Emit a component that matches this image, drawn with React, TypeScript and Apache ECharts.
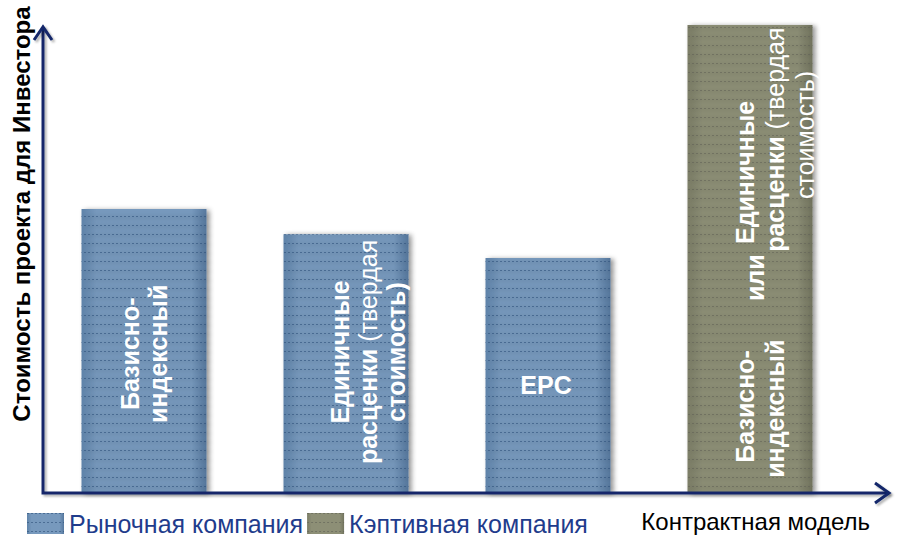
import React, { useEffect, useRef } from "react";
import * as echarts from "echarts";

// ---- data ----
const categories = ["Базисно-индексный", "Единичные расценки", "EPC", "Кэптивная"];
const marketValues: (number | null)[] = [60.7, 55.3, 50.2, null];
const captiveValues: (number | null)[] = [null, null, null, 100];
const seriesNames = ["Рыночная компания", "Кэптивная компания"];
const yAxisTitle = "Стоимость проекта для Инвестора";
const xAxisTitle = "Контрактная модель";

// label texts inside bars (rich-text markup)
const barLabelTexts = [
  "{b|Базисно-}\n{b|индексный}",
  "{b|Единичные}\n{b|расценки}{n| (твердая}\n{b|стоимость)}",
  "{b|EPC}",
  "{b|Базисно-}",
  "{b|индексный}",
  "{b|или}",
  "{b|Единичные}",
  "{b|расценки}{n| (твердая}",
  "{n|стоимость)}",
];

// ---- layout (bar index, x offset from bar centre, fraction of bar height, rotated) ----
const labelLayout: [number, number, number, boolean][] = [
  [0, 0, 0.49, true],
  [1, 22, 0.545, true],
  [2, -2, 0.46, false],
  [3, -5, 0.185, true],
  [3, 25, 0.18, true],
  [3, 5, 0.46, true],
  [3, -5, 0.685, true],
  [3, 25, 0.755, true],
  [3, 55, 0.765, true],
];

const FONT = "'Liberation Sans', Arial, Helvetica, sans-serif";
const NAVY = "#12286a";
const GRID = { left: 43, right: 46, top: 25, bottom: 43 };
const W = 897;
const H = 536;

function grad(edge: string, mid: string, edge2: string) {
  return new echarts.graphic.LinearGradient(0, 0, 1, 0, [
    { offset: 0, color: edge },
    { offset: 0.12, color: mid },
    { offset: 0.88, color: mid },
    { offset: 1, color: edge2 },
  ]);
}

export default function App() {
  const ref = useRef<HTMLDivElement>(null);
  useEffect(() => {
    const chart = echarts.init(ref.current!, null, { renderer: "svg" });
    const barStyle = (color: any, lineColor: string) => ({
      color,
      shadowBlur: 5,
      shadowColor: "rgba(0,0,0,0.4)",
      shadowOffsetX: 3,
      shadowOffsetY: 1,
      decal: {
        symbol: "rect",
        symbolSize: 1,
        color: lineColor,
        dashArrayX: [2, 2],
        dashArrayY: [1, 8],
        rotation: 0,
      },
    });
    const option: any = {
      animation: false,
      grid: { ...GRID },
      xAxis: {
        type: "category",
        data: categories,
        axisLine: { show: false },
        axisTick: { show: false },
        axisLabel: { show: false },
        splitLine: { show: false },
      },
      yAxis: {
        type: "value",
        min: 0,
        max: 100,
        axisLine: { show: false },
        axisTick: { show: false },
        axisLabel: { show: false },
        splitLine: { show: false },
      },
      legend: {
        data: seriesNames,
        left: 27,
        top: 511,
        padding: 0,
        itemWidth: 37,
        itemHeight: 21,
        itemGap: 4,
        icon: "rect",
        selectedMode: false,
        textStyle: { fontSize: 25, lineHeight: 24, color: "#1f3c8c", fontFamily: FONT },
      },
      series: [
        {
          name: seriesNames[0],
          type: "bar",
          stack: "total",
          barWidth: 125,
          data: marketValues,
          itemStyle: barStyle(grad("#5f83a9", "#7799bd", "#56789e"), "rgba(45,80,120,0.6)"),
        },
        {
          name: seriesNames[1],
          type: "bar",
          stack: "total",
          barWidth: 125,
          data: captiveValues,
          itemStyle: barStyle(grad("#7b7d66", "#8d8f76", "#72745f"), "rgba(95,97,85,0.6)"),
        },
      ],
    };
    chart.setOption(option);

    const rich = {
      b: { fontSize: 25, fontWeight: "bold", fill: "#ffffff", fontFamily: FONT, lineHeight: 28 },
      n: { fontSize: 25, fontWeight: "normal", fill: "#ffffff", fontFamily: FONT, lineHeight: 28 },
    };
    const values = categories.map((_, i) => (marketValues[i] ?? captiveValues[i]) as number);
    const graphics: any[] = [];
    labelLayout.forEach(([bar, dx, frac, rot], k) => {
      const p = chart.convertToPixel({ xAxisIndex: 0, yAxisIndex: 0 }, [bar, values[bar] * frac]) as number[];
      graphics.push({
        type: "text",
        x: p[0] + dx,
        y: p[1],
        rotation: rot ? Math.PI / 2 : 0,
        z: 100,
        style: {
          text: barLabelTexts[k],
          rich,
          align: "center",
          verticalAlign: "middle",
          fill: "#fff",
        },
      });
    });

    const x0 = GRID.left;
    const y0 = H - GRID.bottom;
    const axisStyle = {
      stroke: NAVY,
      lineWidth: 3,
      fill: null,
      lineJoin: "miter",
      shadowBlur: 2,
      shadowColor: "rgba(0,0,0,0.3)",
      shadowOffsetX: 2,
      shadowOffsetY: 2,
    };
    graphics.push(
      { type: "polyline", z: 90, shape: { points: [[x0, 27], [x0, y0], [889, y0]] }, style: axisStyle },
      { type: "polyline", z: 90, shape: { points: [[x0 - 9, 40], [x0, 27], [x0 + 9, 40]] }, style: axisStyle },
      { type: "polyline", z: 90, shape: { points: [[875, y0 - 10], [889, y0], [875, y0 + 10]] }, style: axisStyle },
      {
        type: "text",
        z: 100,
        x: 21,
        y: 214,
        rotation: Math.PI / 2,
        style: {
          text: yAxisTitle,
          fontSize: 24,
          fontWeight: "bold",
          fontFamily: FONT,
          fill: "#000",
          align: "center",
          verticalAlign: "middle",
        },
      },
      {
        type: "text",
        z: 100,
        x: 870,
        y: 521,
        style: {
          text: xAxisTitle,
          fontSize: 24,
          fontFamily: FONT,
          fill: "#000",
          align: "right",
          verticalAlign: "middle",
        },
      }
    );
    chart.setOption({ graphic: { elements: graphics } });
    return () => chart.dispose();
  }, []);
  return (
    <div
      ref={ref}
      style={{ position: "fixed", left: 0, top: 0, width: W, height: H, background: "#fff" }}
    />
  );
}
